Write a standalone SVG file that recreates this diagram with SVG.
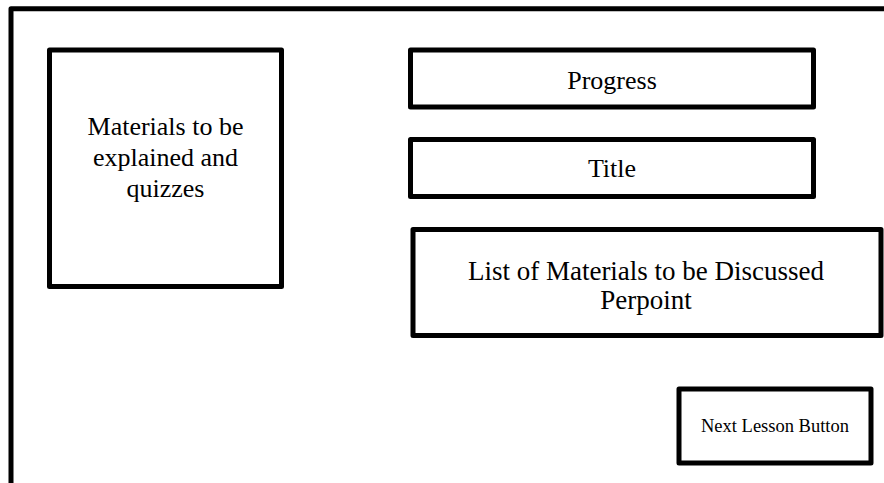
<svg xmlns="http://www.w3.org/2000/svg" width="884" height="483" viewBox="0 0 884 483">
<style>
.box{fill:#fff;stroke:#000;stroke-width:5;stroke-linejoin:round}
.t{font-family:"Liberation Serif","Times New Roman",serif;fill:#000;text-anchor:middle}
.l{font-size:26px}
.m{font-size:27px}
.s{font-size:18.5px}
</style>
<rect width="884" height="483" fill="#fff"/>
<g id="frame">
<path d="M11,483 V8.7 H884" fill="none" stroke="#000" stroke-width="5" stroke-linejoin="round"/>
</g>
<g id="materials">
<rect class="box" x="49.5" y="50" width="232" height="236.5"/>
<text class="t l" x="165.5" y="135">Materials to be</text>
<text class="t l" x="165.5" y="166">explained and</text>
<text class="t l" x="165.5" y="197">quizzes</text>
</g>
<g id="progress">
<rect class="box" x="410.5" y="50" width="403" height="57"/>
<text class="t l" x="612" y="89">Progress</text>
</g>
<g id="title">
<rect class="box" x="410.5" y="139.5" width="403" height="57"/>
<text class="t l" x="612" y="177">Title</text>
</g>
<g id="list">
<rect class="box" x="413" y="229.5" width="468" height="106"/>
<text class="t m" x="646" y="280">List of Materials to be Discussed</text>
<text class="t m" x="646" y="309">Perpoint</text>
</g>
<g id="next">
<rect class="box" x="679" y="389" width="192" height="74"/>
<text class="t s" x="775" y="432">Next Lesson Button</text>
</g>
<g id="connectors"></g>
</svg>
